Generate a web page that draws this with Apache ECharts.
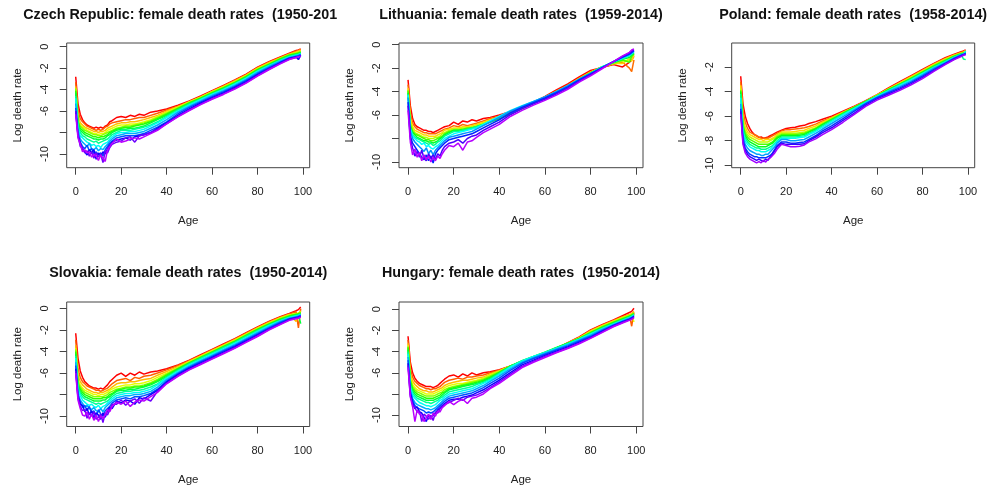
<!DOCTYPE html>
<html><head><meta charset="utf-8">
<script src="https://cdn.jsdelivr.net/npm/echarts@6/dist/echarts.min.js"></script>
<style>html,body{margin:0;padding:0;background:#fff}#c{width:996px;height:487px}</style>
</head><body><div id="c"></div>
<script>
// ages at which the curves were read
const ages = [0,1,2,3,4,5,6,7,8,9,10,11,12,13,14,15,16,18,20,22,24,26,28,30,33,36,40,45,50,55,60,65,70,75,80,85,90,94,97,98,99];
const xTicks = [0,20,40,60,80,100];

// Czech Republic, years shown (one row per age, one column per year)
const czechYears = [1950,1955,1960,1965,1970,1975,1980,1985,1990,1995,2000,2005,2010,2014];
const czechRates = [
[-2.8,-3.3,-3.7,-3.9,-3.9,-4.1,-4.3,-4.6,-4.8,-5.3,-5.7,-6.0,-6.0,-6.3],
[-5.3,-5.9,-6.5,-6.8,-6.9,-7.0,-7.2,-7.4,-7.6,-7.8,-8.1,-8.3,-8.2,-8.5],
[-6.3,-6.7,-7.1,-7.3,-7.4,-7.6,-7.8,-8.0,-8.3,-8.6,-8.9,-9.0,-9.3,-9.1],
[-6.8,-7.0,-7.3,-7.5,-7.6,-7.8,-8.0,-8.3,-8.5,-8.9,-9.3,-9.6,-9.4,-9.8],
[-7.1,-7.2,-7.5,-7.6,-7.8,-8.0,-8.2,-8.4,-8.7,-9.1,-9.5,-9.8,-9.9,-9.6],
[-7.3,-7.4,-7.6,-7.8,-7.9,-8.1,-8.3,-8.6,-8.9,-9.3,-9.2,-10.1,-9.7,-9.9],
[-7.4,-7.5,-7.7,-7.9,-8.0,-8.2,-8.4,-8.7,-9.0,-9.0,-9.7,-9.6,-10.2,-9.8],
[-7.5,-7.6,-7.8,-8.0,-8.1,-8.3,-8.5,-8.8,-9.2,-9.5,-9.5,-9.9,-9.8,-10.3],
[-7.6,-7.7,-7.9,-8.1,-8.2,-8.4,-8.6,-8.9,-9.1,-9.6,-10.0,-9.6,-10.4,-10.0],
[-7.5,-7.8,-7.9,-8.1,-8.2,-8.4,-8.6,-8.8,-9.3,-9.4,-9.8,-10.5,-9.9,-10.2],
[-7.6,-7.7,-8.0,-8.2,-8.3,-8.5,-8.7,-9.0,-9.2,-9.7,-10.1,-9.9,-10.3,-10.6],
[-7.5,-7.8,-7.9,-8.1,-8.3,-8.4,-8.6,-8.9,-9.4,-9.5,-9.9,-10.2,-10.0,-10.1],
[-7.6,-7.7,-7.9,-8.1,-8.2,-8.4,-8.6,-8.8,-9.1,-9.6,-10.2,-9.8,-10.8,-10.4],
[-7.4,-7.5,-7.8,-8.0,-8.1,-8.3,-8.5,-8.7,-9.0,-9.3,-9.6,-10.0,-9.7,-10.7],
[-7.3,-7.4,-7.6,-7.8,-8.0,-8.2,-8.3,-8.6,-8.9,-9.1,-9.3,-9.5,-9.9,-9.6],
[-7.0,-7.2,-7.5,-7.7,-7.9,-8.0,-8.2,-8.4,-8.6,-8.8,-9.0,-9.2,-9.4,-9.3],
[-6.9,-7.1,-7.4,-7.6,-7.8,-7.9,-8.0,-8.2,-8.4,-8.6,-8.8,-8.9,-9.1,-9.0],
[-6.6,-7.0,-7.2,-7.4,-7.6,-7.7,-7.8,-8.0,-8.1,-8.3,-8.5,-8.7,-8.9,-8.6],
[-6.5,-6.9,-7.1,-7.3,-7.5,-7.6,-7.7,-7.8,-8.0,-8.2,-8.4,-8.6,-8.8,-8.9],
[-6.6,-6.8,-7.1,-7.3,-7.4,-7.5,-7.7,-7.8,-8.0,-8.1,-8.3,-8.5,-8.5,-8.8],
[-6.4,-6.8,-7.0,-7.2,-7.4,-7.5,-7.6,-7.8,-7.9,-8.1,-8.3,-8.7,-8.4,-8.6],
[-6.5,-6.7,-7.0,-7.2,-7.3,-7.4,-7.6,-7.7,-7.9,-8.1,-8.3,-8.4,-8.9,-8.5],
[-6.3,-6.6,-6.9,-7.1,-7.2,-7.3,-7.5,-7.6,-7.8,-8.0,-8.2,-8.3,-8.3,-8.6],
[-6.4,-6.6,-6.8,-7.0,-7.1,-7.2,-7.4,-7.5,-7.7,-7.9,-8.1,-8.2,-8.2,-8.4],
[-6.1,-6.4,-6.6,-6.8,-6.9,-7.0,-7.1,-7.3,-7.4,-7.6,-7.8,-8.0,-8.0,-8.1],
[-6.0,-6.2,-6.4,-6.5,-6.6,-6.7,-6.8,-7.0,-7.1,-7.3,-7.5,-7.6,-7.7,-7.8],
[-5.8,-5.9,-6.0,-6.1,-6.2,-6.3,-6.4,-6.5,-6.6,-6.8,-7.0,-7.1,-7.2,-7.2],
[-5.45,-5.55,-5.6,-5.65,-5.7,-5.75,-5.85,-5.9,-6.0,-6.1,-6.25,-6.4,-6.5,-6.55],
[-5.05,-5.1,-5.15,-5.15,-5.2,-5.25,-5.3,-5.35,-5.45,-5.55,-5.65,-5.8,-5.9,-5.95],
[-4.6,-4.65,-4.7,-4.7,-4.75,-4.8,-4.85,-4.9,-4.95,-5.05,-5.15,-5.25,-5.35,-5.4],
[-4.1,-4.15,-4.2,-4.2,-4.25,-4.3,-4.35,-4.4,-4.45,-4.55,-4.65,-4.75,-4.85,-4.9],
[-3.6,-3.65,-3.7,-3.75,-3.8,-3.85,-3.9,-3.95,-4.0,-4.1,-4.2,-4.3,-4.4,-4.45],
[-3.1,-3.15,-3.2,-3.25,-3.3,-3.35,-3.4,-3.45,-3.5,-3.6,-3.7,-3.8,-3.9,-3.95],
[-2.55,-2.6,-2.65,-2.7,-2.75,-2.8,-2.85,-2.9,-2.95,-3.05,-3.15,-3.25,-3.35,-3.4],
[-1.9,-1.95,-2.0,-2.05,-2.1,-2.15,-2.2,-2.25,-2.3,-2.4,-2.5,-2.6,-2.7,-2.75],
[-1.4,-1.45,-1.5,-1.55,-1.6,-1.65,-1.7,-1.75,-1.8,-1.85,-1.95,-2.05,-2.1,-2.15],
[-0.95,-1.0,-1.05,-1.1,-1.1,-1.15,-1.2,-1.25,-1.3,-1.35,-1.45,-1.5,-1.55,-1.6],
[-0.6,-0.65,-0.7,-0.75,-0.75,-0.8,-0.85,-0.9,-0.95,-1.0,-1.05,-1.1,-1.15,-1.2],
[-0.35,-0.4,-0.5,-0.55,-0.6,-0.65,-0.7,-0.75,-0.8,-0.85,-0.9,-0.95,-1.0,-1.0],
[-0.3,-0.35,-0.4,-0.5,-0.55,-0.6,-0.65,-0.7,-0.75,-0.8,-0.85,-1.2,-0.95,-0.95],
[-0.2,-0.25,-0.3,-0.4,-0.45,-0.5,-0.55,-0.6,-0.65,-0.7,-0.75,-0.8,-0.85,-0.9]
];

// Lithuania
const lithuaniaYears = [1959,1964,1969,1974,1979,1984,1989,1994,1999,2004,2009,2014];
const lithuaniaRates = [
[-3.0,-3.4,-3.7,-3.9,-3.9,-4.1,-4.2,-4.3,-4.5,-4.9,-5.2,-5.6],
[-5.2,-5.8,-6.3,-6.6,-6.8,-7.0,-7.1,-7.2,-7.4,-7.8,-8.0,-8.3],
[-6.3,-6.7,-7.0,-7.2,-7.4,-7.5,-7.7,-7.8,-8.0,-8.4,-8.8,-9.4],
[-6.8,-7.0,-7.3,-7.5,-7.6,-7.7,-7.9,-8.0,-8.3,-8.7,-9.5,-8.9],
[-7.0,-7.2,-7.4,-7.6,-7.7,-7.9,-8.0,-8.2,-8.5,-9.0,-9.1,-9.6],
[-7.1,-7.3,-7.5,-7.7,-7.8,-8.0,-8.1,-8.3,-8.7,-9.3,-9.6,-9.2],
[-7.2,-7.4,-7.6,-7.8,-7.9,-8.1,-8.2,-8.5,-8.9,-9.6,-9.0,-9.9],
[-7.3,-7.5,-7.7,-7.9,-8.0,-8.2,-8.3,-8.4,-9.1,-9.8,-9.7,-9.4],
[-7.3,-7.5,-7.7,-7.9,-8.1,-8.2,-8.4,-8.7,-8.8,-9.4,-9.9,-9.8],
[-7.4,-7.6,-7.8,-8.0,-8.1,-8.3,-8.5,-8.6,-9.3,-9.9,-9.3,-9.5],
[-7.4,-7.6,-7.8,-8.0,-8.2,-8.3,-8.4,-8.8,-9.0,-9.5,-9.7,-10.0],
[-7.5,-7.6,-7.8,-8.0,-8.2,-8.4,-8.6,-8.9,-9.4,-10.1,-9.4,-9.6],
[-7.4,-7.6,-7.8,-7.9,-8.1,-8.3,-8.5,-8.7,-9.0,-9.3,-9.8,-9.9],
[-7.3,-7.5,-7.7,-7.9,-8.0,-8.2,-8.3,-8.6,-8.8,-9.0,-9.3,-9.5],
[-7.2,-7.4,-7.6,-7.8,-7.9,-8.0,-8.2,-8.4,-8.6,-8.8,-9.5,-9.7],
[-7.1,-7.3,-7.5,-7.6,-7.8,-7.9,-8.0,-8.2,-8.4,-8.6,-9.0,-9.3],
[-7.0,-7.2,-7.3,-7.5,-7.6,-7.7,-7.8,-8.0,-8.2,-8.4,-8.7,-9.0],
[-6.9,-7.1,-7.2,-7.3,-7.4,-7.5,-7.6,-7.8,-7.9,-8.1,-8.4,-8.6],
[-6.6,-6.9,-7.1,-7.2,-7.3,-7.3,-7.4,-7.6,-7.8,-8.0,-8.3,-8.7],
[-6.8,-7.0,-7.1,-7.2,-7.3,-7.3,-7.4,-7.5,-7.7,-7.9,-8.1,-8.4],
[-6.5,-6.8,-7.0,-7.1,-7.2,-7.3,-7.3,-7.4,-7.6,-7.8,-8.4,-9.0],
[-6.6,-6.9,-7.0,-7.1,-7.1,-7.2,-7.2,-7.3,-7.5,-7.7,-8.0,-8.3],
[-6.4,-6.8,-6.9,-7.0,-7.1,-7.1,-7.1,-7.2,-7.4,-7.6,-7.8,-8.2],
[-6.5,-6.7,-6.8,-6.9,-7.0,-7.0,-7.0,-7.1,-7.2,-7.4,-7.7,-7.9],
[-6.3,-6.5,-6.6,-6.7,-6.8,-6.8,-6.8,-6.8,-6.9,-7.1,-7.3,-7.5],
[-6.2,-6.3,-6.4,-6.5,-6.6,-6.6,-6.5,-6.5,-6.6,-6.8,-7.0,-7.2],
[-6.0,-6.1,-6.2,-6.3,-6.3,-6.3,-6.2,-6.1,-6.2,-6.4,-6.6,-6.8],
[-5.7,-5.75,-5.85,-5.9,-5.9,-5.9,-5.8,-5.6,-5.65,-5.8,-5.95,-6.1],
[-5.3,-5.35,-5.4,-5.45,-5.45,-5.45,-5.35,-5.2,-5.25,-5.35,-5.45,-5.6],
[-4.9,-4.95,-5.0,-5.0,-5.0,-5.0,-4.95,-4.85,-4.85,-4.95,-5.05,-5.15],
[-4.4,-4.45,-4.5,-4.55,-4.55,-4.55,-4.5,-4.45,-4.45,-4.55,-4.65,-4.75],
[-3.85,-3.95,-4.0,-4.05,-4.05,-4.05,-4.05,-4.0,-4.0,-4.1,-4.2,-4.3],
[-3.35,-3.45,-3.5,-3.55,-3.55,-3.55,-3.55,-3.5,-3.5,-3.6,-3.7,-3.8],
[-2.75,-2.85,-2.9,-2.95,-2.95,-2.95,-2.95,-2.95,-2.95,-3.0,-3.1,-3.2],
[-2.2,-2.3,-2.35,-2.4,-2.4,-2.4,-2.45,-2.45,-2.45,-2.5,-2.55,-2.65],
[-1.95,-1.95,-1.9,-1.9,-1.9,-1.9,-1.9,-1.9,-1.95,-1.95,-2.0,-2.05],
[-1.7,-1.65,-1.6,-1.6,-1.55,-1.5,-1.5,-1.45,-1.45,-1.45,-1.45,-1.45],
[-1.9,-1.5,-1.6,-1.4,-1.3,-1.25,-1.2,-1.15,-1.1,-1.05,-1.0,-0.95],
[-1.5,-2.0,-1.2,-1.3,-1.5,-1.1,-0.95,-0.9,-0.85,-0.8,-0.7,-0.65],
[-1.3,-2.3,-1.4,-1.0,-1.0,-0.9,-0.8,-0.75,-0.7,-0.65,-0.55,-0.45],
[-1.0,-1.3,-0.9,-0.8,-0.8,-0.7,-0.65,-0.6,-0.55,-0.5,-0.45,-0.35]
];

// Poland
const polandYears = [1958,1963,1968,1973,1978,1983,1988,1993,1998,2003,2008,2013];
const polandRates = [
[-2.75,-3.2,-3.5,-3.75,-3.9,-4.0,-4.2,-4.5,-5.0,-5.4,-5.6,-5.85],
[-5.0,-5.6,-6.1,-6.5,-6.7,-6.9,-7.1,-7.3,-7.6,-7.9,-8.1,-8.3],
[-6.0,-6.5,-6.9,-7.2,-7.4,-7.6,-7.8,-8.0,-8.3,-8.6,-8.8,-9.0],
[-6.6,-7.0,-7.3,-7.5,-7.7,-7.9,-8.1,-8.3,-8.6,-8.9,-9.1,-9.3],
[-7.0,-7.3,-7.5,-7.7,-7.9,-8.1,-8.3,-8.5,-8.8,-9.1,-9.3,-9.5],
[-7.3,-7.4,-7.6,-7.8,-8.0,-8.2,-8.4,-8.6,-8.9,-9.2,-9.4,-9.6],
[-7.5,-7.5,-7.7,-7.9,-8.1,-8.3,-8.5,-8.7,-9.0,-9.3,-9.5,-9.7],
[-7.6,-7.6,-7.8,-8.0,-8.2,-8.4,-8.6,-8.8,-9.1,-9.3,-9.6,-9.8],
[-7.75,-7.7,-7.9,-8.1,-8.3,-8.5,-8.6,-8.8,-9.1,-9.4,-9.5,-9.7],
[-7.7,-7.8,-7.9,-8.1,-8.3,-8.5,-8.7,-8.9,-9.2,-9.4,-9.6,-9.8],
[-7.8,-7.8,-8.0,-8.1,-8.3,-8.5,-8.7,-8.9,-9.2,-9.4,-9.7,-9.6],
[-7.75,-7.8,-7.9,-8.1,-8.3,-8.5,-8.7,-8.9,-9.1,-9.4,-9.5,-9.75],
[-7.7,-7.8,-7.9,-8.1,-8.3,-8.4,-8.6,-8.8,-9.1,-9.3,-9.6,-9.5],
[-7.6,-7.7,-7.9,-8.0,-8.2,-8.3,-8.5,-8.7,-8.9,-9.2,-9.3,-9.4],
[-7.5,-7.6,-7.8,-7.9,-8.1,-8.2,-8.4,-8.5,-8.7,-9.0,-9.1,-9.2],
[-7.4,-7.5,-7.7,-7.8,-7.9,-8.0,-8.2,-8.3,-8.5,-8.7,-8.8,-9.0],
[-7.3,-7.4,-7.5,-7.6,-7.7,-7.8,-8.0,-8.1,-8.2,-8.4,-8.5,-8.7],
[-7.15,-7.2,-7.3,-7.4,-7.5,-7.6,-7.7,-7.8,-7.9,-8.1,-8.2,-8.3],
[-7.0,-7.1,-7.3,-7.4,-7.5,-7.6,-7.7,-7.8,-7.9,-8.1,-8.3,-8.4],
[-6.95,-7.1,-7.3,-7.4,-7.5,-7.6,-7.7,-7.8,-8.0,-8.2,-8.3,-8.5],
[-6.9,-7.05,-7.25,-7.4,-7.5,-7.6,-7.7,-7.8,-8.0,-8.2,-8.3,-8.5],
[-6.8,-7.0,-7.2,-7.35,-7.45,-7.55,-7.65,-7.75,-7.95,-8.15,-8.3,-8.45],
[-6.75,-6.95,-7.15,-7.3,-7.4,-7.5,-7.6,-7.7,-7.9,-8.1,-8.25,-8.35],
[-6.6,-6.85,-7.0,-7.15,-7.25,-7.3,-7.4,-7.5,-7.7,-7.9,-8.0,-8.1],
[-6.45,-6.65,-6.8,-6.95,-7.0,-7.05,-7.15,-7.25,-7.4,-7.6,-7.7,-7.85],
[-6.25,-6.4,-6.5,-6.6,-6.65,-6.7,-6.8,-6.9,-7.05,-7.2,-7.35,-7.5],
[-6.0,-6.1,-6.15,-6.2,-6.25,-6.3,-6.35,-6.45,-6.6,-6.8,-6.95,-7.1],
[-5.6,-5.65,-5.7,-5.75,-5.75,-5.8,-5.85,-5.9,-6.05,-6.2,-6.35,-6.5],
[-5.2,-5.25,-5.25,-5.3,-5.3,-5.3,-5.35,-5.4,-5.5,-5.6,-5.75,-5.85],
[-4.75,-4.8,-4.8,-4.8,-4.8,-4.8,-4.85,-4.9,-4.95,-5.0,-5.1,-5.2],
[-4.25,-4.3,-4.3,-4.3,-4.35,-4.35,-4.35,-4.4,-4.45,-4.5,-4.6,-4.7],
[-3.7,-3.75,-3.8,-3.8,-3.85,-3.85,-3.9,-3.95,-4.0,-4.1,-4.2,-4.3],
[-3.2,-3.25,-3.3,-3.35,-3.4,-3.4,-3.45,-3.5,-3.6,-3.7,-3.8,-3.9],
[-2.7,-2.75,-2.8,-2.85,-2.9,-2.95,-3.0,-3.05,-3.15,-3.25,-3.35,-3.45],
[-2.2,-2.25,-2.3,-2.35,-2.4,-2.45,-2.5,-2.55,-2.65,-2.75,-2.85,-2.95],
[-1.7,-1.75,-1.8,-1.85,-1.9,-1.95,-2.0,-2.05,-2.1,-2.2,-2.3,-2.35],
[-1.25,-1.3,-1.35,-1.4,-1.45,-1.5,-1.55,-1.6,-1.65,-1.7,-1.75,-1.8],
[-0.95,-1.0,-1.05,-1.1,-1.1,-1.15,-1.2,-1.2,-1.25,-1.3,-1.35,-1.4],
[-0.75,-0.8,-0.85,-0.9,-0.9,-0.95,-0.95,-1.0,-1.0,-1.05,-1.1,-1.15],
[-0.7,-0.75,-0.8,-0.85,-0.85,-0.9,-1.35,-0.95,-0.95,-1.0,-1.0,-1.05],
[-0.6,-0.65,-0.7,-0.75,-0.8,-0.85,-1.4,-0.7,-0.85,-0.9,-0.95,-1.0]
];

// Slovakia
const slovakiaYears = [1950,1955,1960,1965,1970,1975,1980,1985,1990,1995,2000,2005,2010,2014];
const slovakiaRates = [
[-2.3,-2.9,-3.4,-3.7,-3.8,-4.0,-4.2,-4.4,-4.6,-5.0,-5.3,-5.6,-5.8,-6.0],
[-4.6,-5.6,-6.2,-6.6,-6.8,-7.0,-7.2,-7.4,-7.6,-7.9,-8.0,-8.2,-8.3,-8.5],
[-5.8,-6.4,-6.8,-7.1,-7.3,-7.5,-7.7,-7.9,-8.1,-8.5,-8.7,-8.9,-9.1,-9.3],
[-6.4,-6.8,-7.1,-7.4,-7.6,-7.8,-8.0,-8.2,-8.5,-8.8,-9.2,-9.0,-9.5,-9.9],
[-6.8,-7.0,-7.3,-7.6,-7.8,-8.0,-8.2,-8.4,-8.7,-9.2,-9.0,-9.6,-9.4,-10.0],
[-7.0,-7.2,-7.5,-7.7,-7.9,-8.1,-8.3,-8.5,-8.9,-9.0,-9.5,-9.3,-10.2,-9.6],
[-7.2,-7.3,-7.6,-7.8,-8.0,-8.2,-8.4,-8.6,-9.0,-9.3,-9.1,-9.9,-9.7,-10.3],
[-7.3,-7.4,-7.7,-7.9,-8.1,-8.3,-8.5,-8.7,-8.9,-9.4,-9.7,-9.5,-10.0,-9.8],
[-7.4,-7.5,-7.8,-8.0,-8.2,-8.4,-8.6,-8.8,-9.1,-9.2,-9.5,-10.2,-9.6,-10.4],
[-7.4,-7.6,-7.8,-8.0,-8.2,-8.4,-8.6,-8.9,-9.2,-9.5,-10.1,-9.7,-10.3,-9.9],
[-7.5,-7.6,-7.9,-8.1,-8.2,-8.4,-8.6,-8.8,-9.0,-9.6,-9.4,-9.9,-10.1,-10.5],
[-7.4,-7.7,-7.8,-8.0,-8.2,-8.4,-8.6,-8.9,-9.3,-9.3,-9.8,-10.3,-9.8,-10.0],
[-7.5,-7.6,-7.8,-8.0,-8.2,-8.3,-8.5,-8.8,-9.1,-9.6,-10.0,-9.7,-10.6,-10.2],
[-7.3,-7.5,-7.7,-7.9,-8.1,-8.3,-8.5,-8.7,-9.0,-9.2,-9.5,-10.1,-9.7,-9.9],
[-7.1,-7.4,-7.6,-7.8,-8.0,-8.2,-8.3,-8.6,-8.8,-9.0,-9.3,-9.5,-9.9,-9.4],
[-6.8,-7.2,-7.5,-7.6,-7.8,-8.0,-8.2,-8.4,-8.6,-8.8,-9.1,-9.2,-9.4,-9.6],
[-6.6,-7.0,-7.3,-7.5,-7.7,-7.9,-8.0,-8.2,-8.4,-8.6,-8.8,-9.3,-8.9,-9.1],
[-6.2,-6.7,-7.0,-7.3,-7.5,-7.6,-7.7,-7.9,-8.1,-8.3,-8.5,-8.6,-8.9,-8.7],
[-6.0,-6.6,-6.9,-7.2,-7.4,-7.5,-7.6,-7.8,-8.0,-8.2,-8.4,-8.8,-8.5,-8.9],
[-6.3,-6.5,-6.9,-7.1,-7.3,-7.4,-7.6,-7.7,-7.9,-8.1,-8.3,-8.5,-9.0,-8.6],
[-6.0,-6.7,-6.8,-7.1,-7.3,-7.4,-7.5,-7.7,-7.9,-8.1,-8.4,-8.6,-8.6,-9.1],
[-6.2,-6.4,-6.8,-7.0,-7.2,-7.3,-7.5,-7.6,-7.8,-8.0,-8.2,-8.9,-8.4,-8.7],
[-5.9,-6.5,-6.7,-7.0,-7.2,-7.3,-7.4,-7.6,-7.8,-8.0,-8.2,-8.3,-8.8,-8.5],
[-6.1,-6.3,-6.6,-6.9,-7.1,-7.2,-7.3,-7.5,-7.7,-7.9,-8.1,-8.4,-8.3,-8.6],
[-5.9,-6.2,-6.5,-6.7,-6.9,-7.0,-7.1,-7.3,-7.5,-7.7,-7.9,-8.0,-8.6,-8.2],
[-5.8,-6.0,-6.2,-6.4,-6.6,-6.7,-6.8,-7.0,-7.1,-7.3,-7.5,-7.6,-7.7,-7.8],
[-5.6,-5.7,-5.85,-6.0,-6.1,-6.2,-6.3,-6.4,-6.5,-6.6,-6.75,-6.85,-6.95,-7.0],
[-5.25,-5.3,-5.4,-5.5,-5.55,-5.6,-5.65,-5.75,-5.85,-5.95,-6.05,-6.15,-6.25,-6.3],
[-4.8,-4.85,-4.9,-4.95,-5.0,-5.05,-5.1,-5.15,-5.25,-5.35,-5.45,-5.55,-5.65,-5.7],
[-4.3,-4.35,-4.4,-4.45,-4.5,-4.55,-4.6,-4.65,-4.75,-4.85,-4.95,-5.05,-5.15,-5.2],
[-3.8,-3.85,-3.9,-3.95,-4.0,-4.05,-4.1,-4.15,-4.25,-4.35,-4.45,-4.55,-4.65,-4.7],
[-3.3,-3.35,-3.4,-3.45,-3.5,-3.55,-3.6,-3.65,-3.75,-3.85,-3.95,-4.05,-4.15,-4.2],
[-2.8,-2.85,-2.9,-2.95,-3.0,-3.05,-3.1,-3.15,-3.25,-3.35,-3.45,-3.55,-3.65,-3.7],
[-2.25,-2.3,-2.35,-2.4,-2.45,-2.5,-2.55,-2.6,-2.7,-2.8,-2.9,-3.0,-3.1,-3.15],
[-1.7,-1.75,-1.8,-1.85,-1.9,-1.95,-2.0,-2.05,-2.15,-2.25,-2.35,-2.45,-2.55,-2.6],
[-1.2,-1.25,-1.3,-1.35,-1.4,-1.45,-1.5,-1.55,-1.6,-1.7,-1.8,-1.9,-1.95,-2.0],
[-0.75,-0.8,-0.85,-0.9,-0.95,-1.0,-1.05,-1.1,-1.15,-1.2,-1.3,-1.4,-1.45,-1.5],
[-0.45,-0.5,-0.55,-0.6,-0.65,-0.7,-0.75,-0.8,-0.85,-0.9,-0.95,-1.0,-1.05,-1.1],
[-0.2,-0.3,-1.2,-0.45,-0.5,-0.55,-0.6,-0.65,-0.7,-0.75,-0.8,-0.85,-0.9,-0.95],
[-0.1,-1.8,-0.5,-0.4,-0.45,-0.5,-0.55,-0.6,-0.65,-0.7,-0.75,-0.8,-0.85,-0.9],
[0.15,0.0,-0.2,-0.3,-0.35,-0.4,-1.4,-0.5,-0.55,-0.6,-0.65,-0.7,-0.75,-0.8]
];

// Hungary
const hungaryYears = [1950,1955,1960,1965,1970,1975,1980,1985,1990,1995,2000,2005,2010,2014];
const hungaryRates = [
[-2.55,-2.9,-3.2,-3.4,-3.5,-3.6,-3.8,-4.0,-4.2,-4.5,-4.8,-5.1,-5.3,-5.5],
[-5.0,-5.6,-6.1,-6.4,-6.6,-6.8,-7.0,-7.2,-7.4,-7.6,-7.8,-8.0,-8.2,-8.3],
[-6.0,-6.4,-6.8,-7.1,-7.3,-7.5,-7.7,-7.9,-8.1,-8.4,-8.6,-8.8,-9.0,-9.2],
[-6.5,-6.8,-7.1,-7.4,-7.6,-7.8,-8.0,-8.2,-8.4,-8.8,-9.1,-9.4,-9.3,-10.6],
[-6.8,-7.0,-7.3,-7.6,-7.8,-8.0,-8.2,-8.4,-8.6,-9.0,-9.3,-9.2,-9.7,-9.5],
[-7.0,-7.2,-7.5,-7.7,-7.9,-8.1,-8.3,-8.5,-8.8,-9.1,-9.4,-9.7,-9.6,-9.9],
[-7.1,-7.3,-7.6,-7.8,-8.0,-8.2,-8.4,-8.6,-8.9,-9.2,-9.5,-9.8,-10.6,-10.0],
[-7.2,-7.4,-7.7,-7.9,-8.1,-8.3,-8.5,-8.7,-9.0,-9.3,-9.6,-10.2,-9.9,-10.6],
[-7.3,-7.5,-7.7,-8.0,-8.2,-8.4,-8.6,-8.8,-9.1,-9.4,-9.8,-10.6,-10.1,-10.2],
[-7.3,-7.5,-7.8,-8.0,-8.2,-8.4,-8.6,-8.8,-9.1,-9.4,-9.7,-10.0,-10.4,-9.9],
[-7.3,-7.6,-7.8,-8.0,-8.2,-8.4,-8.6,-8.9,-9.2,-9.5,-9.8,-10.2,-10.0,-10.4],
[-7.4,-7.5,-7.8,-8.0,-8.2,-8.4,-8.6,-8.8,-9.1,-9.4,-9.7,-10.0,-10.5,-9.8],
[-7.3,-7.5,-7.7,-7.9,-8.1,-8.3,-8.5,-8.7,-9.0,-9.3,-9.5,-9.8,-9.7,-10.1],
[-7.2,-7.4,-7.6,-7.8,-8.0,-8.2,-8.4,-8.6,-8.8,-9.1,-9.3,-9.5,-9.8,-9.6],
[-7.0,-7.3,-7.5,-7.7,-7.9,-8.1,-8.3,-8.4,-8.6,-8.9,-9.1,-9.3,-9.4,-9.7],
[-6.8,-7.1,-7.4,-7.6,-7.8,-7.9,-8.1,-8.3,-8.5,-8.7,-8.9,-9.1,-9.2,-9.3],
[-6.6,-6.9,-7.2,-7.4,-7.6,-7.8,-7.9,-8.1,-8.3,-8.5,-8.7,-8.9,-9.0,-9.1],
[-6.3,-6.7,-7.0,-7.2,-7.4,-7.5,-7.6,-7.8,-8.0,-8.2,-8.4,-8.6,-8.8,-8.7],
[-6.2,-6.6,-6.9,-7.1,-7.3,-7.4,-7.5,-7.7,-7.9,-8.1,-8.3,-8.5,-8.6,-9.0],
[-6.4,-6.5,-6.8,-7.0,-7.2,-7.3,-7.4,-7.6,-7.8,-8.0,-8.2,-8.5,-8.4,-8.7],
[-6.1,-6.6,-6.7,-7.0,-7.1,-7.2,-7.3,-7.5,-7.7,-7.9,-8.1,-8.3,-8.6,-8.5],
[-6.3,-6.4,-6.7,-6.9,-7.0,-7.1,-7.2,-7.4,-7.6,-7.8,-8.0,-8.2,-8.3,-8.9],
[-6.0,-6.4,-6.6,-6.8,-6.9,-7.0,-7.1,-7.3,-7.5,-7.7,-7.9,-8.1,-8.2,-8.4],
[-6.2,-6.3,-6.5,-6.7,-6.8,-6.9,-7.0,-7.1,-7.3,-7.5,-7.7,-7.9,-8.1,-8.3],
[-6.0,-6.2,-6.4,-6.5,-6.6,-6.7,-6.8,-6.9,-7.0,-7.2,-7.4,-7.6,-7.8,-8.0],
[-5.9,-6.0,-6.1,-6.2,-6.3,-6.4,-6.5,-6.6,-6.7,-6.8,-7.0,-7.2,-7.4,-7.5],
[-5.7,-5.75,-5.8,-5.85,-5.9,-5.95,-6.0,-6.05,-6.15,-6.3,-6.5,-6.7,-6.85,-7.0],
[-5.35,-5.35,-5.35,-5.35,-5.35,-5.35,-5.35,-5.4,-5.45,-5.6,-5.75,-5.95,-6.1,-6.25],
[-4.95,-4.95,-4.95,-4.95,-4.9,-4.9,-4.85,-4.85,-4.9,-5.0,-5.1,-5.25,-5.4,-5.5],
[-4.6,-4.6,-4.55,-4.55,-4.5,-4.5,-4.45,-4.45,-4.45,-4.55,-4.65,-4.8,-4.9,-5.0],
[-4.2,-4.2,-4.15,-4.15,-4.1,-4.1,-4.05,-4.05,-4.1,-4.15,-4.25,-4.35,-4.45,-4.55],
[-3.7,-3.7,-3.7,-3.65,-3.65,-3.65,-3.6,-3.65,-3.7,-3.75,-3.85,-3.95,-4.05,-4.1],
[-3.15,-3.2,-3.2,-3.2,-3.2,-3.2,-3.2,-3.25,-3.3,-3.35,-3.45,-3.55,-3.65,-3.7],
[-2.6,-2.65,-2.7,-2.7,-2.75,-2.75,-2.8,-2.8,-2.85,-2.9,-3.0,-3.1,-3.2,-3.25],
[-1.95,-2.0,-2.05,-2.1,-2.15,-2.2,-2.25,-2.3,-2.35,-2.45,-2.55,-2.65,-2.7,-2.75],
[-1.45,-1.5,-1.55,-1.6,-1.65,-1.7,-1.75,-1.8,-1.85,-1.9,-2.0,-2.1,-2.15,-2.2],
[-1.0,-1.05,-1.1,-1.15,-1.2,-1.25,-1.3,-1.35,-1.4,-1.45,-1.5,-1.55,-1.6,-1.65],
[-0.6,-0.7,-0.75,-0.8,-0.85,-0.9,-0.95,-1.0,-1.05,-1.1,-1.15,-1.2,-1.25,-1.3],
[-0.3,-0.5,-0.5,-0.55,-0.6,-0.65,-0.7,-0.75,-0.8,-0.85,-0.9,-0.95,-1.0,-1.05],
[-0.2,-1.6,-0.4,-0.45,-0.5,-0.55,-0.6,-0.65,-0.7,-0.75,-0.8,-0.85,-0.9,-0.95],
[0.1,-0.3,-0.2,-1.2,-0.35,-0.4,-0.45,-0.5,-0.55,-0.6,-0.65,-0.7,-0.75,-0.8]
];

const FONT = '"Liberation Sans", Arial, Helvetica, sans-serif';
const panels = [
  {title:'Czech Republic: female death rates  (1950-2014)', years:czechYears, first:1950, count:65, rates:czechRates,
   yTicks:[0,-2,-4,-6,-8,-10], yLabels:[0,-2,-4,-6,-10], box:[66.7,43,243,124.7], yMin:-11.28, yMax:0.345, titleY:15, clip:[23.3,318]},
  {title:'Lithuania: female death rates  (1959-2014)', years:lithuaniaYears, first:1959, count:56, rates:lithuaniaRates,
   yTicks:[0,-2,-4,-6,-8,-10], yLabels:[0,-2,-4,-6,-10], box:[399,43,244,124.7], yMin:-10.49, yMax:0.145, titleY:15},
  {title:'Poland: female death rates  (1958-2014)', years:polandYears, first:1958, count:57, rates:polandRates,
   yTicks:[-2,-4,-6,-8,-10], yLabels:[-2,-4,-6,-8,-10], box:[731.7,43,243,124.7], yMin:-10.2, yMax:-0.047, titleY:15},
  {title:'Slovakia: female death rates  (1950-2014)', years:slovakiaYears, first:1950, count:65, rates:slovakiaRates,
   yTicks:[0,-2,-4,-6,-8,-10], yLabels:[0,-2,-4,-6,-10], box:[66.7,302,243,124.7], yMin:-10.97, yMax:0.61, titleY:273.5},
  {title:'Hungary: female death rates  (1950-2014)', years:hungaryYears, first:1950, count:65, rates:hungaryRates,
   yTicks:[0,-2,-4,-6,-8,-10], yLabels:[0,-2,-4,-6,-10], box:[399,302,244,124.7], yMin:-11.07, yMax:0.69, titleY:273.5}
];

function rainbow(year, p) {
  const h = (year - p.first) / (1.25 * p.count) * 360;
  return 'hsl(' + h.toFixed(1) + ',100%,50%)';
}

const grid = [], xAxis = [], yAxis = [], series = [], graphic = [];
panels.forEach((p, i) => {
  grid.push({left:p.box[0], top:p.box[1], width:p.box[2], height:p.box[3], show:true,
    borderColor:'#444', borderWidth:1, backgroundColor:'transparent'});
  xAxis.push({gridIndex:i, type:'value', min:-3.96, max:102.96, position:'bottom',
    axisLine:{show:false, onZero:false}, splitLine:{show:false},
    axisTick:{show:true, inside:false, length:7, customValues:xTicks, lineStyle:{color:'#444'}},
    axisLabel:{customValues:xTicks, margin:19, fontSize:11, color:'#222', fontFamily:FONT},
    name:'Age', nameLocation:'middle', nameGap:47.5, nameTextStyle:{fontSize:11.5, color:'#222', fontFamily:FONT}});
  yAxis.push({gridIndex:i, type:'value', min:p.yMin, max:p.yMax, position:'left',
    axisLine:{show:false, onZero:false}, splitLine:{show:false},
    axisTick:{show:true, inside:false, length:7, customValues:p.yTicks, lineStyle:{color:'#444'}},
    axisLabel:{customValues:p.yLabels, rotate:90, margin:16.5, fontSize:11, color:'#222', fontFamily:FONT},
    name:'Log death rate', nameLocation:'middle', nameGap:43, nameRotate:90,
    nameTextStyle:{fontSize:11.5, color:'#222', fontFamily:FONT}});
  p.years.forEach((yr, j) => {
    series.push({type:'line', xAxisIndex:i, yAxisIndex:i, showSymbol:false, symbol:'none',
      silent:true, animation:false,
      lineStyle:{width:1.5, color:rainbow(yr, p)},
      data: ages.map((a, r) => [a, p.rates[r][j]])});
  });
  const cx = p.box[0] + p.box[2] / 2;
  const st = {text:p.title, font:'bold 14.3px ' + FONT, fill:'#111', verticalAlign:'middle'};
  if (p.clip) { st.align = 'left'; st.width = p.clip[1]; st.overflow = 'truncate'; st.ellipsis = ''; }
  else { st.align = 'center'; }
  graphic.push({type:'text', x: p.clip ? p.clip[0] : cx, y:p.titleY, style:st, silent:true});
});

const chart = echarts.init(document.getElementById('c'), null, {renderer:'canvas'});
chart.setOption({animation:false, backgroundColor:'#fff', grid, xAxis, yAxis, series, graphic});
</script>
</body></html>
